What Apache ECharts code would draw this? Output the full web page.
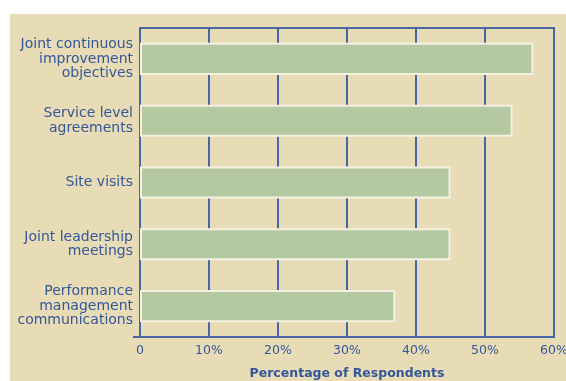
<!DOCTYPE html>
<html>
<head>
<meta charset="utf-8">
<script src="https://cdn.jsdelivr.net/npm/echarts@6/dist/echarts.min.js"></script>
<style>
  html, body { margin: 0; padding: 0; background: #ffffff; }
  #wrap { position: relative; width: 566px; height: 381px; overflow: hidden; }
  #panel { position: absolute; left: 10px; top: 14px; right: 0; bottom: 0; background: #e7dcb6; }
  #chart { position: absolute; left: 0; top: 0; width: 566px; height: 381px; }
</style>
</head>
<body>
<div id="wrap">
  <div id="panel"></div>
  <div id="chart"></div>
</div>
<script>
// Collaboration practices, listed top to bottom
const categories = [
  'Joint continuous\nimprovement\nobjectives',
  'Service level\nagreements',
  'Site visits',
  'Joint leadership\nmeetings',
  'Performance\nmanagement\ncommunications'
];
// Share of respondents (%)
const respondents = [57, 54, 45, 45, 37];
const xTicks = [0, 10, 20, 30, 40, 50, 60];

const blue = '#4866a2';
const textBlue = '#34579a';
const font = 'DejaVu Sans';

const W = 566, H = 381;
const gridBox = { left: 140, right: 12, top: 28, bottom: 44 };

const chart = echarts.init(document.getElementById('chart'), null, { renderer: 'canvas' });
chart.setOption({
  animation: false,
  backgroundColor: 'transparent',
  grid: Object.assign({
    show: true, borderColor: blue, borderWidth: 2, backgroundColor: 'transparent',
    outerBoundsMode: 'none', containLabel: false
  }, gridBox),
  xAxis: {
    type: 'value',
    min: xTicks[0], max: xTicks[xTicks.length - 1], interval: 10,
    name: 'Percentage of Respondents',
    nameLocation: 'middle',
    nameGap: 30,
    nameTextStyle: { color: textBlue, fontFamily: font, fontSize: 12.5, fontWeight: 'bold' },
    axisLine: { show: true, lineStyle: { color: blue, width: 2 } },
    axisTick: { show: false },
    axisLabel: {
      color: textBlue, fontFamily: font, fontSize: 12.5, margin: 7,
      formatter: v => v === 0 ? '0' : v + '%'
    },
    splitLine: { show: true, lineStyle: { color: blue, width: 2 } }
  },
  yAxis: {
    type: 'category',
    data: categories,
    inverse: true,
    axisLine: { show: true, lineStyle: { color: blue, width: 2 } },
    axisTick: { show: false },
    axisLabel: {
      color: textBlue, fontFamily: font, fontSize: 14,
      lineHeight: 14.5, margin: 7, align: 'right'
    },
    splitLine: { show: false }
  },
  series: [{
    type: 'bar',
    data: respondents,
    barCategoryGap: '48%',
    itemStyle: { color: '#b4c9a1', borderColor: '#f4f1e2', borderWidth: 2 },
    z: 3
  }],
  // short stub extending the baseline left of the value axis origin
  graphic: [{
    type: 'line',
    shape: { x1: gridBox.left - 7, y1: H - gridBox.bottom, x2: gridBox.left, y2: H - gridBox.bottom },
    style: { stroke: blue, lineWidth: 2 },
    z: 10
  }]
});
</script>
</body>
</html>
